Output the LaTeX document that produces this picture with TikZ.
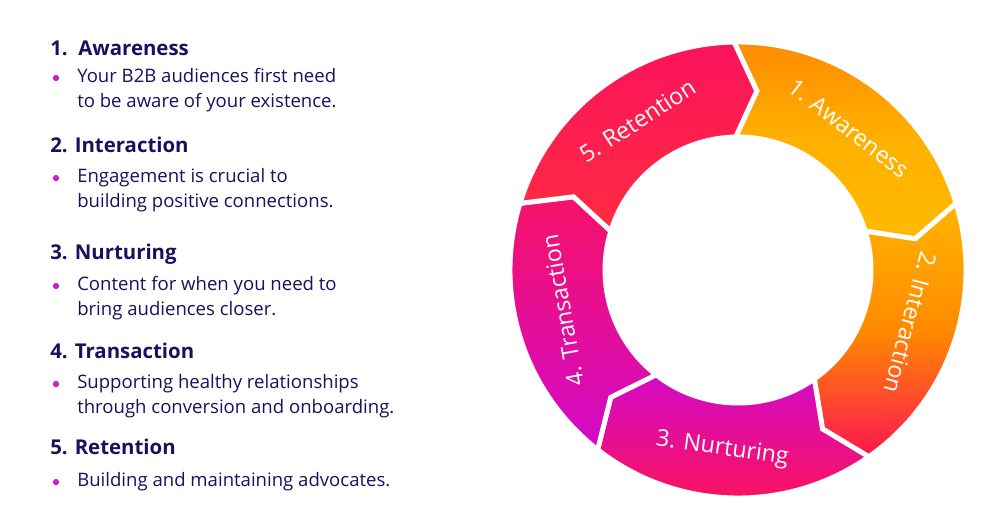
\documentclass[tikz,border=0pt]{standalone}
\usepackage{fontspec}
\setmainfont{Open Sans}
\usetikzlibrary{calc}
\definecolor{navy}{HTML}{1A1060}
\definecolor{mag}{HTML}{C81EC8}
\definecolor{yel}{HTML}{FFBA00}
\definecolor{ora}{HTML}{FF8A00}
\definecolor{red1}{HTML}{FF1450}
\definecolor{pur}{HTML}{D20AC8}
\tikzset{
 head/.style={anchor=base west,text=navy,font=\fontsize{14.5}{16}\selectfont\bfseries,inner sep=0},
 body/.style={anchor=north west,text=navy,font=\fontsize{13.2}{17.6}\selectfont,inner sep=0,align=left},
 bul/.style={circle,fill=mag,inner sep=0,minimum size=4.5pt},
 seg/.style={draw=white,line width=3.5pt,line join=miter},
 ringtxt/.style={text=white,font=\fontsize{16.5}{18}\selectfont,inner sep=0}
}
\begin{document}
\begin{tikzpicture}[x=0.025cm,y=-0.025cm]
\useasboundingbox[fill=white] (0,0) rectangle (1000,528);
% left column
\foreach \n/\t/\y in {h1/1.\ \ Awareness/55,h2/2. Interaction/152,h3/3. Nurturing/259,h4/4. Transaction/358,h5/5. Retention/454}
  \node[head] (\n) at (50,\y) {\t};
\node[body] (b1) at (77,68) {Your B2B audiences first need\\to be aware of your existence.};
\node[body] (b2) at (77,168) {Engagement is crucial to\\building positive connections.};
\node[body] (b3) at (77,276) {Content for when you need to\\bring audiences closer.};
\node[body] (b4) at (77,374) {Supporting healthy relationships\\through conversion and onboarding.};
\node[body] (b5) at (77,472) {Building and maintaining advocates.};
\foreach \n/\y in {c1/78,c2/178,c3/286,c4/384,c5/482}
  \node[bul] (\n) at (56,\y) {};
% ring
\def\R{228}\def\r{133}\def\m{180}\def\d{7}
\begin{scope}[shift={(738,270)},yscale=-1]
\def\segpath#1#2{(#1:\R) arc[start angle=#1,end angle=#2,radius=\R] -- ({#2-\d}:\m) -- (#2:\r) arc[start angle=#2,end angle=#1,radius=\r] -- ({#1-\d}:\m) -- cycle}
\shade[seg,left color=ora,right color=yel,middle color=yel!80!ora,shading angle=0] \segpath{91}{17};
\shade[seg,top color=yel!90!ora,bottom color=red1,middle color=ora,shading angle=0] \segpath{17}{-55};
\shade[seg,left color=pur,right color=red1,shading angle=0] \segpath{-55}{-128};
\shade[seg,top color=red1!80!pur,bottom color=pur,shading angle=0] \segpath{-128}{-197};
\shade[seg,left color=red1!90!pur,right color=red1!80!ora,shading angle=0] \segpath{163}{91};
\end{scope}
\node[ringtxt,rotate=-38] (t1) at ($(738,270)+({\m*cos(52)},{-\m*sin(52)})$) {1. Awareness};
\node[ringtxt,rotate=-105] (t2) at ($(738,270)+({\m*cos(-17)},{-\m*sin(-17)})$) {2. Interaction};
\node[ringtxt,rotate=-8] (t3) at ($(738,270)+({\m*cos(-95)},{-\m*sin(-95)})$) {3. Nurturing};
\node[ringtxt,rotate=100] (t4) at ($(738,270)+({\m*cos(-167)},{-\m*sin(-167)})$) {4. Transaction};
\node[ringtxt,rotate=33] (t5) at ($(738,270)+({\m*cos(124)},{-\m*sin(124)})$) {5. Retention};
\end{tikzpicture}
\end{document}
